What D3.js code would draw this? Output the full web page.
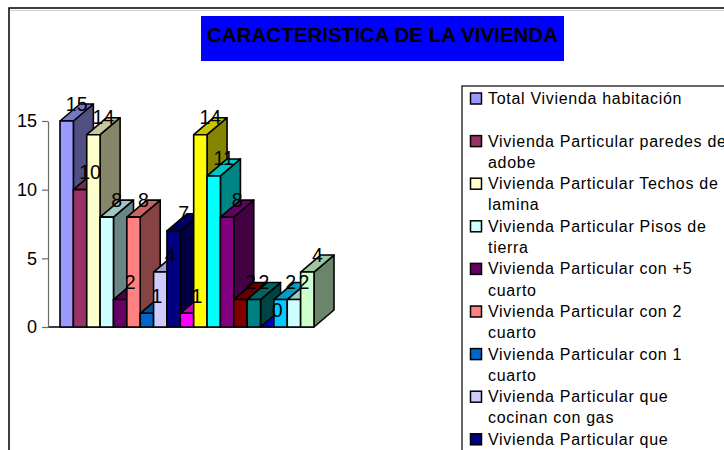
<!DOCTYPE html>
<html>
<meta charset="UTF-8">
<head>
    <script src="https://d3js.org/d3.v7.min.js"></script>
    <style>
        body {
            margin: 0;
            background: white;
            font-family: "Liberation Sans", Arial, sans-serif;
        }
    </style>
</head>
<body>
<script>
    // one category, 19 series drawn side by side
    let values = [15, 10, 14, 8, 2, 8, 1, 4, 7, 1, 14, 11, 8, 2, 2, 0, 2, 2, 4];
    let colors = ["#9999ff", "#993366", "#ffffcc", "#ccffff", "#660066", "#ff8080", "#0066cc",
                  "#ccccff", "#000080", "#ff00ff", "#ffff00", "#00ffff", "#800080", "#800000",
                  "#008080", "#0000ff", "#00ccff", "#ccffff", "#ccffcc"];
    let legendLabels = [
        "Total Vivienda habitación\n",
        "Vivienda Particular paredes de\nadobe",
        "Vivienda Particular Techos de\nlamina",
        "Vivienda Particular Pisos de\ntierra",
        "Vivienda Particular con +5\ncuarto",
        "Vivienda Particular con 2\ncuarto",
        "Vivienda Particular con 1\ncuarto",
        "Vivienda Particular que\ncocinan con gas",
        "Vivienda Particular que"
    ];
    let yTicks = [0, 5, 10, 15];
    let title = "CARACTERISTICA DE LA VIVIENDA";

    let width = 724, height = 450;
    let dx = 20, dy = -17;   // depth of the 3d boxes

    let svg = d3.select("body").append("svg")
        .attr("width", width)
        .attr("height", height);

    // outer frame
    svg.append("line").attr("x1", 10).attr("x2", width).attr("y1", 10.5).attr("y2", 10.5)
        .attr("stroke", "#cfcfcf").attr("stroke-width", 1);
    svg.append("path").attr("d", `M9,${height}V8H${width}`)
        .attr("fill", "none").attr("stroke", "black").attr("stroke-width", 1.5);

    // title
    svg.append("rect").attr("x", 201).attr("y", 16).attr("width", 363).attr("height", 45)
        .attr("fill", "#0000ff");
    svg.append("text")
        .attr("x", 382.5).attr("y", 42)
        .attr("text-anchor", "middle")
        .attr("font-size", 21).attr("font-weight", "bold")
        .attr("textLength", 351).attr("lengthAdjust", "spacingAndGlyphs")
        .attr("fill", "black")
        .text(title);

    let x = d3.scaleBand().domain(d3.range(values.length)).range([60, 314]).padding(0);
    let y = d3.scaleLinear().domain([0, 15]).range([327, 121]);
    let bw = x.bandwidth();

    function shade(c, k) {
        let r = d3.rgb(c);
        return d3.rgb(r.r * k, r.g * k, r.b * k).formatHex();
    }

    // floor front edge
    svg.append("line").attr("x1", 48).attr("x2", x.range()[1]).attr("y1", y(0)).attr("y2", y(0))
        .attr("stroke", "black").attr("stroke-width", 1.6);

    // y axis
    let axis = svg.append("g")
        .attr("transform", "translate(48,0)")
        .call(d3.axisLeft(y).tickValues(yTicks).tickSize(6).tickSizeOuter(0).tickPadding(5));
    axis.select(".domain").attr("stroke", "#6b6b6b").attr("stroke-width", 1.2);
    axis.selectAll(".tick line").attr("stroke", "#6b6b6b").attr("stroke-width", 1.2);
    axis.selectAll(".tick text")
        .attr("font-family", "Liberation Sans, Arial, sans-serif")
        .attr("font-size", 18).attr("fill", "black");

    // bars, left to right so each one covers the side of the previous one
    let bars = svg.append("g")
        .attr("stroke", "black").attr("stroke-width", 1.6).attr("stroke-linejoin", "round");

    values.forEach((v, i) => {
        let x0 = x(i), x1 = x(i) + bw, yt = y(v), yb = y(0);
        let g = bars.append("g");
        g.append("path")
            .attr("d", `M${x1},${yt}L${x1 + dx},${yt + dy}L${x1 + dx},${yb + dy}L${x1},${yb}Z`)
            .attr("fill", shade(colors[i], 0.52));
        g.append("path")
            .attr("d", `M${x0},${yt}L${x1},${yt}L${x1 + dx},${yt + dy}L${x0 + dx},${yt + dy}Z`)
            .attr("fill", shade(colors[i], 0.78));
        g.append("rect")
            .attr("x", x0).attr("y", yt)
            .attr("width", bw).attr("height", yb - yt)
            .attr("fill", colors[i]);
    });

    // data labels on top of everything
    svg.append("g").selectAll("text")
        .data(values)
        .join("text")
        .attr("x", (d, i) => x(i) + bw / 2 + dx / 2)
        .attr("y", d => y(d) + dy / 2 - 2)
        .attr("text-anchor", "middle")
        .attr("font-size", 19.5)
        .attr("fill", "black")
        .text(d => d);

    // legend
    svg.append("rect").attr("x", 462).attr("y", 86).attr("width", 300).attr("height", 400)
        .attr("fill", "none").attr("stroke", "black").attr("stroke-width", 1.2);

    let leg = svg.append("g").selectAll("g")
        .data(legendLabels)
        .join("g")
        .attr("transform", (d, i) => `translate(470,${104 + i * 42.6})`);

    leg.append("rect")
        .attr("x", 0.5).attr("y", -11)
        .attr("width", 11).attr("height", 11)
        .attr("fill", (d, i) => colors[i])
        .attr("stroke", "black").attr("stroke-width", 1.5);

    leg.append("text")
        .attr("font-size", 16)
        .attr("letter-spacing", 0.7)
        .attr("fill", "black")
        .selectAll("tspan")
        .data(d => d.split("\n"))
        .join("tspan")
        .attr("x", 18)
        .attr("y", (d, j) => j * 21.3)
        .text(d => d);
</script>
</body>
</html>
